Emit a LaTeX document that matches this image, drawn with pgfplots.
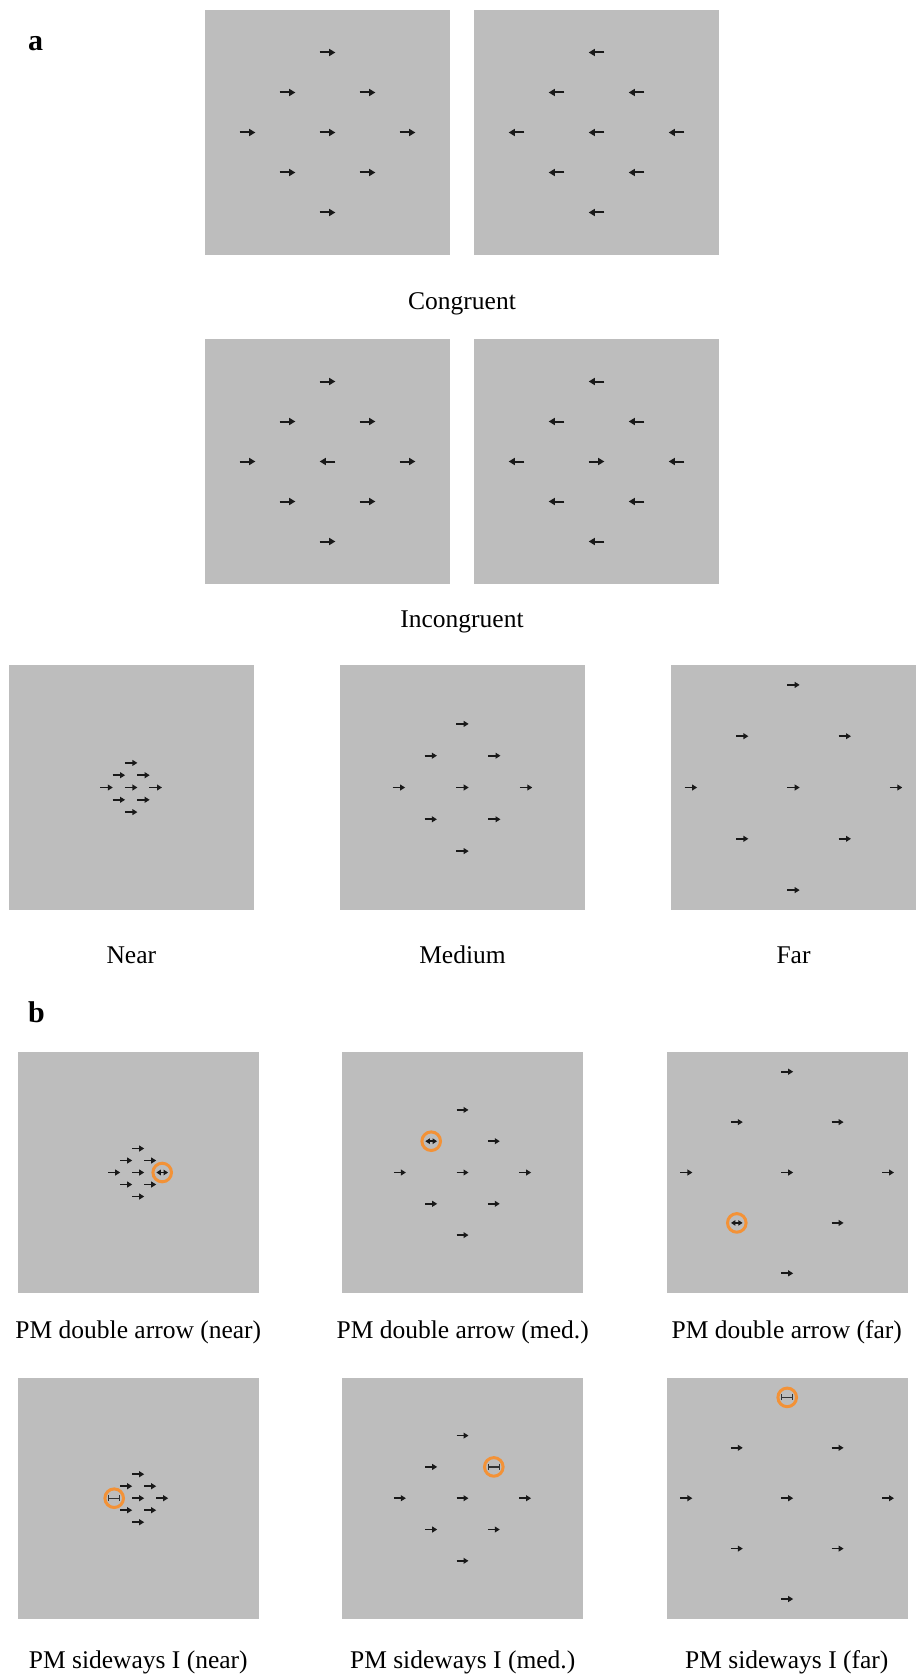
\documentclass[border=0pt]{standalone}
\usepackage{fontspec}
\setmainfont{Liberation Serif}
\usepackage{pgfplots}
\pgfplotsset{compat=1.18}
\usepackage{pgfplotstable}
\usetikzlibrary{arrows.meta}

\definecolor{panelgray}{RGB}{189,189,189}
\definecolor{pmorange}{RGB}{243,146,55}

\newcommand{\lbl}{\fontsize{25.5}{30}\selectfont}
\newcommand{\panelfont}{\fontsize{30}{34}\selectfont\bfseries}

% one stimulus display: a grey square, coordinates in pt from its centre
\pgfplotsset{
  stim/.style 2 args={at={(#1pt,-#2pt)}, anchor=north west,
    scale only axis, hide axis, clip=false},
  big/.style={width=245pt, height=245pt,
    xmin=-122.5, xmax=122.5, ymin=-122.5, ymax=122.5},
  small/.style={width=241pt, height=241pt,
    xmin=-120.5, xmax=120.5, ymin=-120.5, ymax=120.5},
}
\tikzset{
  bigarrow/.style={black!90, line width=2pt, -{Triangle[length=6.2pt,width=7pt]}},
  smallarrow/.style={black!90, line width=1.7pt, -{Triangle[length=5pt,width=5.8pt]}},
  dblarrow/.style={black!90, line width=1.5pt,
    {Triangle[length=4.4pt,width=5.4pt]}-{Triangle[length=4.4pt,width=5.4pt]}},
  sidewaysI/.style={black!80, line width=1.2pt, {Bar[width=6pt]}-{Bar[width=6pt]}},
  pmring/.style={only marks, mark=o, mark size=9.3pt,
    mark options={draw=pmorange, line width=3pt}},
}
\newcommand{\bg}[1]{\addplot[draw=none, fill=panelgray]
  coordinates {(-#1,-#1) (#1,-#1) (#1,#1) (-#1,#1)} -- cycle;}
\newcommand{\arrows}[2]{\addplot[#1, quiver={u=\thisrow{u}, v=0}]
  table[x expr=\thisrow{x}-0.5*\thisrow{u}, y=y] {#2};}

% flanker displays: centre (x,y) and signed length u of each arrow
\pgfplotstableread{
x y u
0 80 15.7
-40 40 15.7
40 40 15.7
-80 0 15.7
0 0 15.7
80 0 15.7
-40 -40 15.7
40 -40 15.7
0 -80 15.7
}\congRight
\pgfplotstableread{
x y u
0 80 -15.7
-40 40 -15.7
40 40 -15.7
-80 0 -15.7
0 0 -15.7
80 0 -15.7
-40 -40 -15.7
40 -40 -15.7
0 -80 -15.7
}\congLeft
\pgfplotstableread{
x y u
0 80 15.7
-40 40 15.7
40 40 15.7
-80 0 15.7
0 0 -15.7
80 0 15.7
-40 -40 15.7
40 -40 15.7
0 -80 15.7
}\incRight
\pgfplotstableread{
x y u
0 80 -15.7
-40 40 -15.7
40 40 -15.7
-80 0 -15.7
0 0 15.7
80 0 -15.7
-40 -40 -15.7
40 -40 -15.7
0 -80 -15.7
}\incLeft
\pgfplotstableread{
x y u
0 24.6 12.6
-12.3 12.3 12.6
12.3 12.3 12.6
-24.6 0 12.6
0 0 12.6
24.6 0 12.6
-12.3 -12.3 12.6
12.3 -12.3 12.6
0 -24.6 12.6
}\nearA
\pgfplotstableread{
x y u
0 63.6 12.4
-31.8 31.8 12.4
31.8 31.8 12.4
-63.6 0 12.4
0 0 12.4
63.6 0 12.4
-31.8 -31.8 12.4
31.8 -31.8 12.4
0 -63.6 12.4
}\medA
\pgfplotstableread{
x y u
0 102.6 12.4
-51.3 51.3 12.4
51.3 51.3 12.4
-102.6 0 12.4
0 0 12.4
102.6 0 12.4
-51.3 -51.3 12.4
51.3 -51.3 12.4
0 -102.6 12.4
}\farA
% prospective-memory displays: one arrow replaced by the PM item
\pgfplotstableread{
x y u
0 24 12
-12 12 12
12 12 12
-24 0 12
0 0 12
-12 -12 12
12 -12 12
0 -24 12
}\nearDbl
\pgfplotstableread{
x y u
0 62.6 12
31.3 31.3 12
-62.6 0 12
0 0 12
62.6 0 12
-31.3 -31.3 12
31.3 -31.3 12
0 -62.6 12
}\medDbl
\pgfplotstableread{
x y u
0 100.8 12
-50.4 50.4 12
50.4 50.4 12
-100.8 0 12
0 0 12
100.8 0 12
50.4 -50.4 12
0 -100.8 12
}\farDbl
\pgfplotstableread{
x y u
0 24 12
-12 12 12
12 12 12
0 0 12
24 0 12
-12 -12 12
12 -12 12
0 -24 12
}\nearI
\pgfplotstableread{
x y u
0 62.6 12
-31.3 31.3 12
-62.6 0 12
0 0 12
62.6 0 12
-31.3 -31.3 12
31.3 -31.3 12
0 -62.6 12
}\medI
\pgfplotstableread{
x y u
-50.4 50.4 12
50.4 50.4 12
-100.8 0 12
0 0 12
100.8 0 12
-50.4 -50.4 12
50.4 -50.4 12
0 -100.8 12
}\farI

\begin{document}
\begin{tikzpicture}
\path[use as bounding box] (0,0) rectangle (917pt,-1677pt);

% ---- a: congruent / incongruent, spacing
\begin{axis}[stim={205}{10}, big] \bg{122.5} \arrows{bigarrow}{\congRight} \end{axis}
\begin{axis}[stim={474}{10}, big] \bg{122.5} \arrows{bigarrow}{\congLeft} \end{axis}
\begin{axis}[stim={205}{339}, big] \bg{122.5} \arrows{bigarrow}{\incRight} \end{axis}
\begin{axis}[stim={474}{339}, big] \bg{122.5} \arrows{bigarrow}{\incLeft} \end{axis}

\begin{axis}[stim={8.6}{665}, big] \bg{122.5} \arrows{smallarrow}{\nearA} \end{axis}
\begin{axis}[stim={340}{665}, big] \bg{122.5} \arrows{smallarrow}{\medA} \end{axis}
\begin{axis}[stim={671}{665}, big] \bg{122.5} \arrows{smallarrow}{\farA} \end{axis}

% ---- b: PM targets
\begin{axis}[stim={17.7}{1052}, small] \bg{120.5} \arrows{smallarrow}{\nearDbl}
  \addplot[dblarrow, quiver={u=11.7, v=0}] coordinates {(18.15,0)};
  \addplot[pmring] coordinates {(24,0)};
\end{axis}
\begin{axis}[stim={342}{1052}, small] \bg{120.5} \arrows{smallarrow}{\medDbl}
  \addplot[dblarrow, quiver={u=11.7, v=0}] coordinates {(-37.15,31.3)};
  \addplot[pmring] coordinates {(-31.3,31.3)};
\end{axis}
\begin{axis}[stim={666.7}{1052}, small] \bg{120.5} \arrows{smallarrow}{\farDbl}
  \addplot[dblarrow, quiver={u=11.7, v=0}] coordinates {(-56.25,-50.4)};
  \addplot[pmring] coordinates {(-50.4,-50.4)};
\end{axis}

\begin{axis}[stim={17.7}{1377.7}, small] \bg{120.5} \arrows{smallarrow}{\nearI}
  \addplot[sidewaysI, quiver={u=12.4, v=0}] coordinates {(-30.2,0)};
  \addplot[pmring] coordinates {(-24,0)};
\end{axis}
\begin{axis}[stim={342}{1377.7}, small] \bg{120.5} \arrows{smallarrow}{\medI}
  \addplot[sidewaysI, quiver={u=12.4, v=0}] coordinates {(25.1,31.3)};
  \addplot[pmring] coordinates {(31.3,31.3)};
\end{axis}
\begin{axis}[stim={666.7}{1377.7}, small] \bg{120.5} \arrows{smallarrow}{\farI}
  \addplot[sidewaysI, quiver={u=12.4, v=0}] coordinates {(-6.2,100.8)};
  \addplot[pmring] coordinates {(0,100.8)};
\end{axis}

% ---- labels
\node[anchor=base west, font=\panelfont, inner sep=0pt] at (28pt,-50.7pt) {a};
\node[anchor=base west, font=\panelfont, inner sep=0pt] at (28pt,-1022pt) {b};

\begin{scope}[every node/.style={anchor=base, font=\lbl, inner sep=0pt}]
\node at (462pt,-309.3pt) {Congruent};
\node at (462pt,-627pt) {Incongruent};
\node at (131.3pt,-963pt) {Near};
\node at (462.5pt,-963pt) {Medium};
\node at (793.5pt,-963pt) {Far};
\node at (138.3pt,-1338.5pt) {PM double arrow (near)};
\node at (462.7pt,-1338.5pt) {PM double arrow (med.)};
\node at (786.8pt,-1338.5pt) {PM double arrow (far)};
\node at (138.3pt,-1668pt) {PM sideways I (near)};
\node at (462.7pt,-1668pt) {PM sideways I (med.)};
\node at (786.8pt,-1668pt) {PM sideways I (far)};
\end{scope}
\end{tikzpicture}
\end{document}
